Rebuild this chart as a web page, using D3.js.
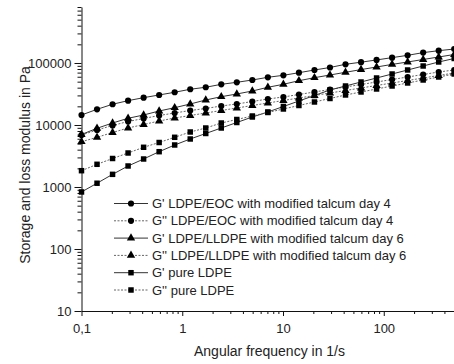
<!DOCTYPE html>
<html lang="en">
<head>
<meta charset="UTF-8">
<title>Storage and loss modulus</title>
<script src="https://d3js.org/d3.v7.min.js"></script>
<style>
    body {margin: 0; background: #fff;}
    text {font-family: "Liberation Sans", Arial, sans-serif; fill: #222;}
</style>
</head>
<body>
<script>
    const width = 454;
    const height = 364;

    // angular frequency (1/s)
    const freq = [0.1, 0.1426, 0.2034, 0.29, 0.4136, 0.5898, 0.8411, 1.2, 1.711, 2.439,
                  3.479, 4.961, 7.075, 10.09, 14.39, 20.52, 29.26, 41.73, 59.51, 84.87,
                  121, 172.6, 246.1, 351, 500.5];

    // moduli in Pa
    const gp_eoc = [14500, 17900, 21600, 24700, 27600, 30500, 33700, 37700, 40600, 45300,
                    48800, 53200, 58800, 63300, 69700, 77100, 84600, 95300, 103000, 112000,
                    122000, 133000, 147000, 158000, 168000];
    const gpp_eoc = [6900, 8310, 9820, 11390, 12730, 14230, 15610, 17140, 18460, 20250,
                     21820, 23930, 26270, 28290, 31040, 34070, 37380, 41020, 45000, 49380,
                     54180, 59460, 65230, 71580, 77130];
    const gp_lldpe = [7030, 8850, 10770, 12830, 14500, 16820, 19010, 21820, 25310, 28610,
                      31620, 35350, 40560, 45340, 51820, 57940, 64040, 70790, 78270, 86210,
                      94930, 103800, 113900, 125000, 137100];
    const gpp_lldpe = [5380, 6330, 7570, 8950, 10190, 11600, 12970, 14230, 15610, 17140,
                       18800, 20630, 22630, 24850, 27260, 29910, 32820, 36020, 39530, 43370,
                       47590, 52210, 57300, 62870, 68990];
    const gp_ldpe = [831, 1150, 1600, 2182, 2829, 3710, 4759, 5946, 7294, 8946,
                     10970, 13460, 16210, 19880, 24380, 29910, 36690, 42560, 49380, 57300,
                     66460, 77130, 89460, 103800, 118200];
    const gpp_ldpe = [1832, 2323, 2882, 3535, 4369, 5220, 6333, 7713, 8946, 10770,
                      12270, 13970, 15910, 18120, 20630, 23500, 26760, 30480, 34070, 38070,
                      42560, 47590, 53190, 59460, 66460];

    const labels = ["G' LDPE/EOC with modified talcum day 4",
                    "G'' LDPE/EOC with modified talcum day 4",
                    "G' LDPE/LLDPE with modified talcum day 6",
                    "G'' LDPE/LLDPE with modified talcum day 6",
                    "G' pure LDPE",
                    "G'' pure LDPE"];

    const yMajor = [10, 100, 1000, 10000, 100000];
    const xMajor = [0.1, 1, 10, 100];

    const series = [
        {label: labels[0], values: gp_eoc,    symbol: d3.symbolCircle,   dashed: false},
        {label: labels[1], values: gpp_eoc,   symbol: d3.symbolCircle,   dashed: true},
        {label: labels[2], values: gp_lldpe,  symbol: d3.symbolTriangle, dashed: false},
        {label: labels[3], values: gpp_lldpe, symbol: d3.symbolTriangle, dashed: true},
        {label: labels[4], values: gp_ldpe,   symbol: d3.symbolSquare,   dashed: false},
        {label: labels[5], values: gpp_ldpe,  symbol: d3.symbolSquare,   dashed: true}
    ];
    const symSize = 30;

    const svg = d3.select("body").append("svg")
            .attr("width", width).attr("height", height);

    const x = d3.scaleLog().domain([0.1, 1000]).range([81.5, 484.5]);
    const y = d3.scaleLog().domain([10, 800000]).range([311, 7]);

    // minor ticks 2..9 of every decade
    const minors = (lo, hi) => {
        const out = [];
        for (let d = lo; d < hi; d *= 10)
            for (let m = 2; m <= 9; m++) if (d * m <= hi) out.push(d * m);
        return out;
    };

    // y axis
    svg.append("g").attr("transform", "translate(81.5,0)")
            .call(d3.axisLeft(y).tickValues(minors(10, 800000)).tickSize(4).tickFormat(""))
            .call(g => g.select(".domain").remove());
    const yAxis = svg.append("g").attr("transform", "translate(81.5,0)")
            .call(d3.axisLeft(y).tickValues(yMajor).tickSize(7).tickPadding(3)
                    .tickFormat(d3.format("d")).tickSizeOuter(0));
    yAxis.selectAll("text").style("font-size", "13px").attr("fill", "#222");

    // x axis
    svg.append("g").attr("transform", "translate(0,311)")
            .call(d3.axisBottom(x).tickValues(minors(0.1, 1000)).tickSize(3).tickFormat(""))
            .call(g => g.select(".domain").remove());
    const xAxis = svg.append("g").attr("transform", "translate(0,311)")
            .call(d3.axisBottom(x).tickValues(xMajor).tickSize(5).tickPadding(8)
                    .tickFormat(d => d < 1 ? String(d).replace(".", ",") : d).tickSizeOuter(0));
    xAxis.selectAll("text").style("font-size", "13px").attr("fill", "#222");

    svg.selectAll(".tick line").attr("stroke", "#111");
    svg.selectAll(".domain").attr("stroke", "#111");

    // axis titles
    svg.append("text")
            .attr("transform", "translate(30,165) rotate(-90)")
            .attr("text-anchor", "middle")
            .style("font-size", "14px")
            .text("Storage and loss modulus in Pa");
    svg.append("text")
            .attr("x", 269.5).attr("y", 356)
            .attr("text-anchor", "middle")
            .style("font-size", "14px")
            .text("Angular frequency in 1/s");

    const line = d3.line().x((d, i) => x(freq[i])).y(d => y(d));

    const plot = svg.append("g");
    series.forEach(s => {
        plot.append("path")
                .datum(s.values)
                .attr("d", line)
                .style("fill", "none")
                .style("stroke", s.dashed ? "#666" : "#333")
                .style("stroke-width", 1)
                .style("stroke-dasharray", s.dashed ? "2,1.5" : null);
        plot.selectAll(null)
                .data(s.values)
                .enter()
                .append("path")
                .attr("d", d3.symbol().type(s.symbol).size(symSize))
                .attr("transform", (d, i) => `translate(${x(freq[i])},${y(d)})`)
                .style("fill", "#000");
    });

    // legend
    const legend = svg.append("g").attr("transform", "translate(0,203.5)");
    series.forEach((s, i) => {
        const row = legend.append("g").attr("transform", `translate(0,${i * 17.3})`);
        row.append("line")
                .attr("x1", 114).attr("x2", 148)
                .style("stroke", s.dashed ? "#666" : "#333")
                .style("stroke-width", 1)
                .style("stroke-dasharray", s.dashed ? "2,1.5" : null);
        row.append("path")
                .attr("d", d3.symbol().type(s.symbol).size(symSize))
                .attr("transform", "translate(131,0)")
                .style("fill", "#000");
        row.append("text")
                .attr("x", 152).attr("y", 0).attr("dy", "0.35em")
                .style("font-size", "13px")
                .text(s.label);
    });
</script>
</body>
</html>
